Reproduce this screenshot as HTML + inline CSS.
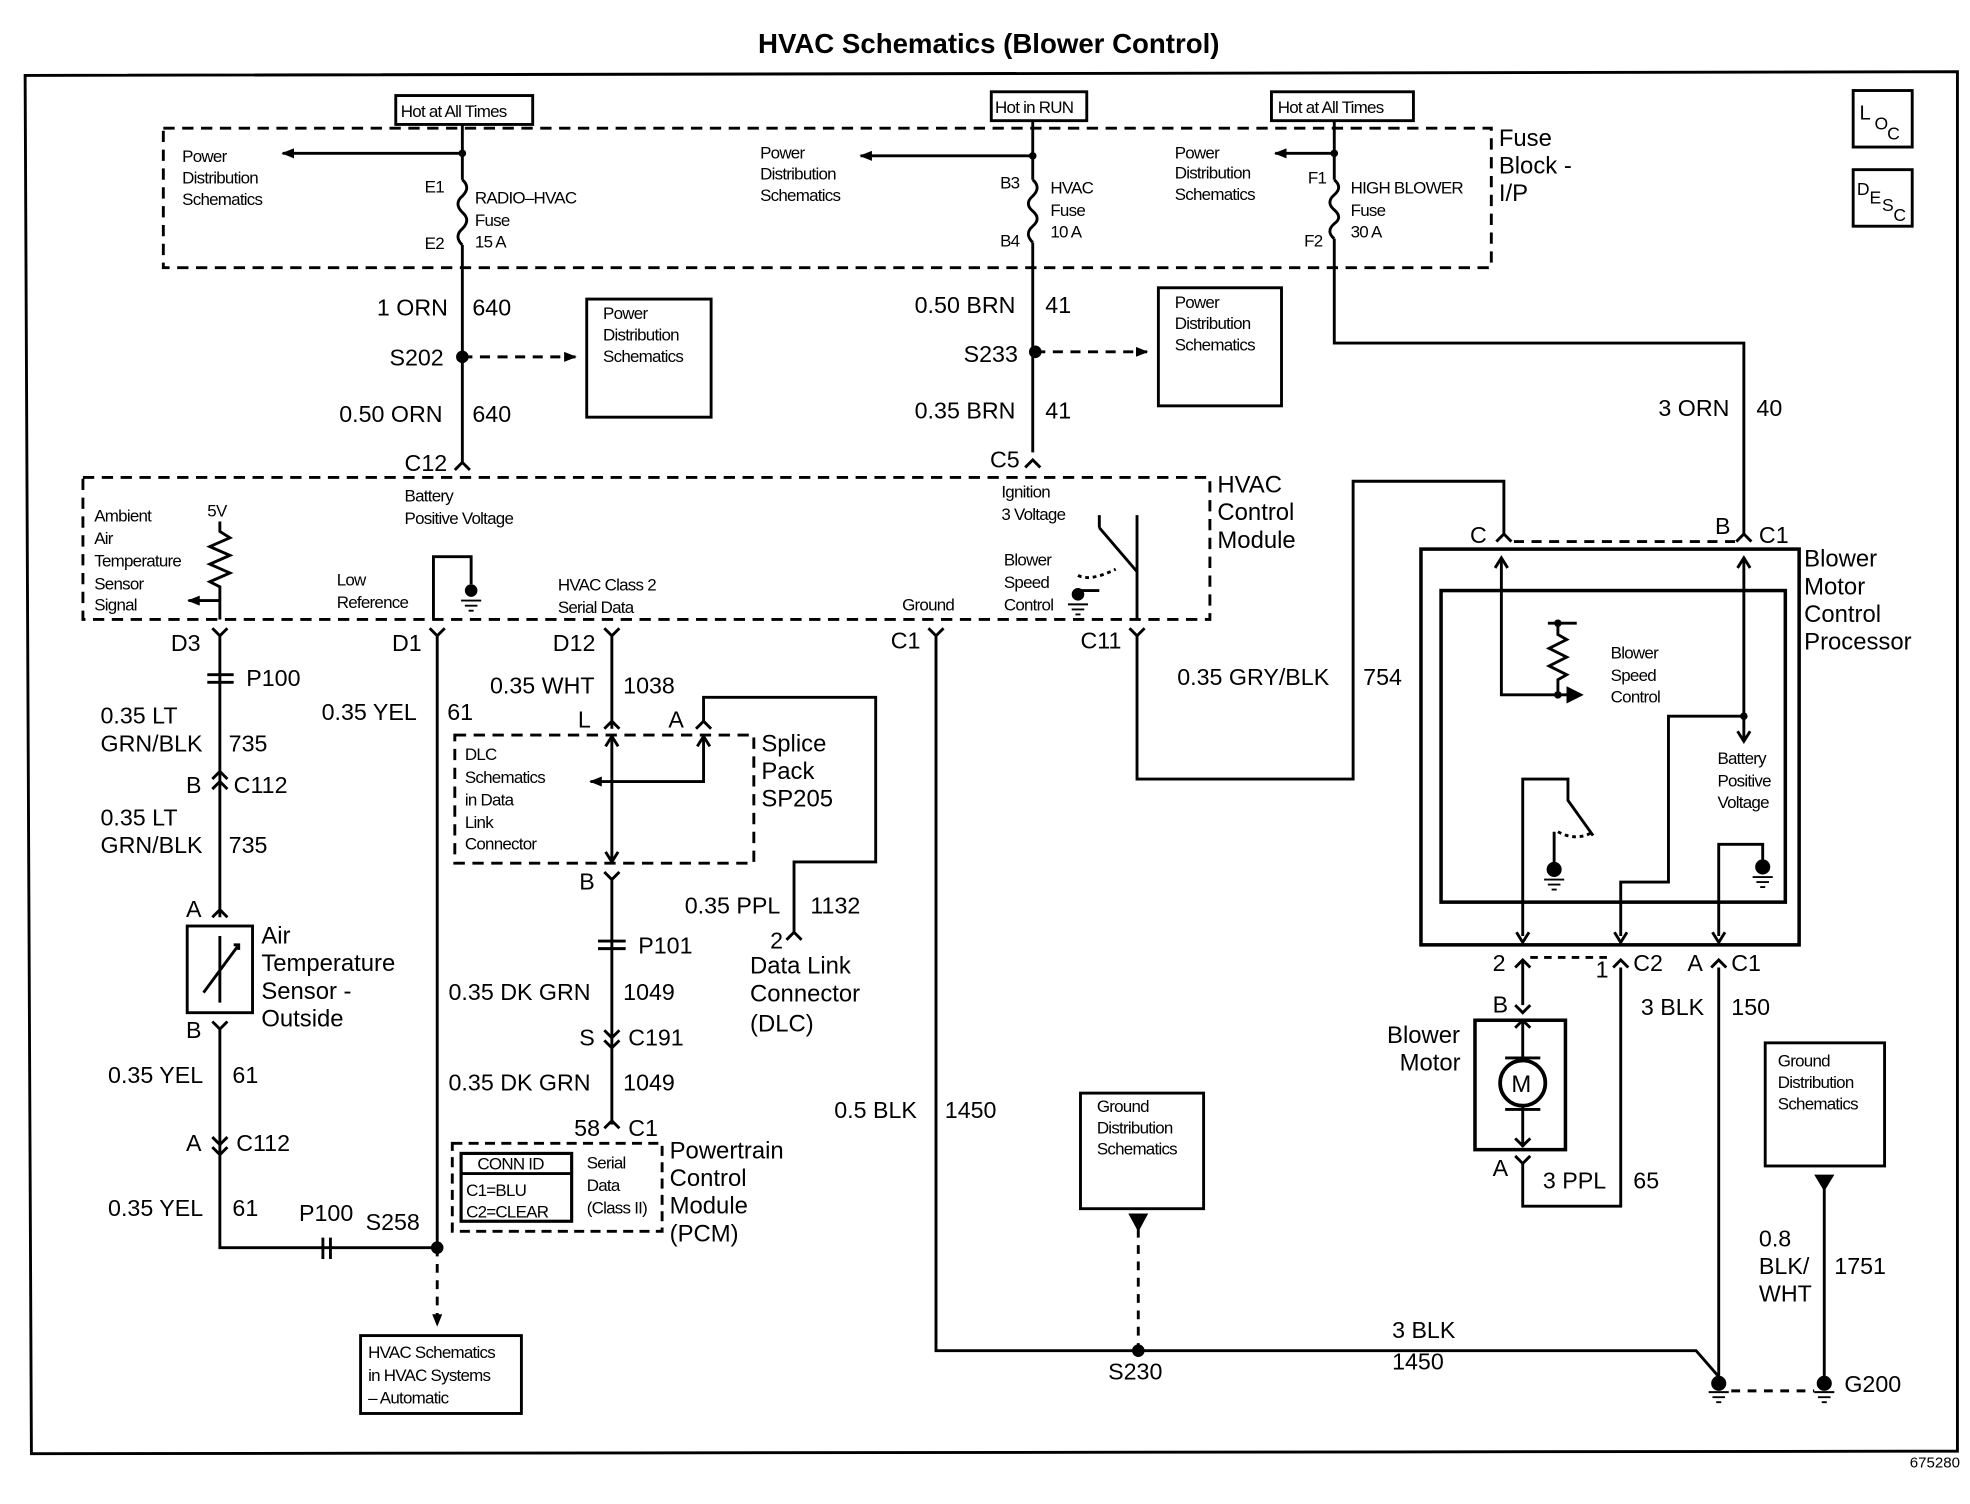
<!DOCTYPE html>
<html><head><meta charset="utf-8"><style>
html,body{margin:0;padding:0;background:#fff;}
svg{display:block;}
text{font-family:"Liberation Sans",Arial,sans-serif;fill:#000;}
.s{font-size:13.5px;letter-spacing:-0.6px;}
.m{font-size:18.5px;}
.l{font-size:19px;}
</style></head><body>
<svg width="1970" height="1504" viewBox="0 0 1568 1197" xmlns="http://www.w3.org/2000/svg">
<defs>
<marker id="ar" markerWidth="10" markerHeight="8" refX="9" refY="4" orient="auto" markerUnits="userSpaceOnUse"><path d="M0,0 L10,4 L0,8 z" fill="#000"/></marker>
</defs>
<g stroke="#000" stroke-width="2.3" fill="none">
<path d="M20,60 L1558,57 L1558,1155 L25,1157 Z"/>
<rect x="1475" y="72" width="47" height="45"/>
<rect x="1475" y="135" width="47" height="45"/>
<rect x="130" y="102" width="1057" height="111" stroke-dasharray="9,6"/>
<rect x="315" y="76" width="109" height="23"/>
<rect x="789" y="73" width="76" height="23"/>
<rect x="1012" y="73" width="113" height="23"/>
<path d="M368,99 V143 M368,195 V368"/>
<path d="M368,143 q7,6 0,13 q-7,6 0,13 q7,6 0,13 q-7,6 0,13"/>
<path d="M368,122 H225" marker-end="url(#ar)"/>
<path d="M822,96 V143 M822,193 V360"/>
<path d="M822,143 q7,6 0,13 q-7,6 0,12 q7,6 0,12 q-7,6 0,13"/>
<path d="M822,124 H685" marker-end="url(#ar)"/>
<path d="M1062,96 V143 M1062,190 V273 H1388 V425"/>
<path d="M1062,143 q7,6 0,12 q-7,6 0,12 q7,6 0,11 q-7,6 0,12"/>
<path d="M1062,122 H1015" marker-end="url(#ar)"/>
<path d="M368,284 H458" stroke-dasharray="8,6" marker-end="url(#ar)"/>
<rect x="467" y="238" width="99" height="94"/>
<path d="M824,280 H913" stroke-dasharray="8,6" marker-end="url(#ar)"/>
<rect x="922" y="229" width="98" height="94"/>
<rect x="66" y="380" width="897" height="113" stroke-dasharray="9,6"/>
<path d="M362,374 L368,368 L374,374 M816,372 L822,366 L828,372"/>
<path d="M175,415 V423 l8,5 l-16,7 l16,7 l-16,7 l16,7 l-16,7 l8,4 V493"/>
<path d="M175,478 H150" marker-end="url(#ar)"/>
<path d="M345,493 V443 H375 V465"/>
<path d="M905,493 V410 M905,455 L875,420 M875,410 V420 M858,470 H875"/>
<path d="M858,458 q10,5 30,-5" stroke-dasharray="3,3"/>
<path d="M169,500 L175,506 L181,500 M175,506 V730"/>
<path d="M165,537 H186 M165,543 H186"/>
<path d="M169,620 L175,614 L181,620 M169,628 L175,622 L181,628"/>
<path d="M169,730 L175,724 L181,730"/>
<rect x="149" y="737" width="52" height="69"/>
<path d="M175,745 V798 M162,790 L190,752 M186,752 H190 V756"/>
<path d="M169,813 L175,819 L181,813 M175,819 V993 H348"/>
<path d="M169,905 L175,911 L181,905 M169,913 L175,919 L181,913"/>
<path d="M257,985 V1002 M263,985 V1002"/>
<path d="M342,500 L348,506 L354,500 M348,506 V993"/>
<path d="M348,993 V1055" stroke-dasharray="7,6" marker-end="url(#ar)"/>
<rect x="287" y="1063" width="128" height="62"/>
<path d="M481,500 L487,506 L493,500 M487,506 V580"/>
<path d="M481,580 L487,574 L493,580 M554,580 L560,574 L566,580"/>
<rect x="362" y="585" width="238" height="102" stroke-dasharray="9,6"/>
<path d="M487,586 V686 M482,594 L487,586 L492,594 M482,678 L487,686 L492,678"/>
<path d="M560,586 V622 H470" marker-end="url(#ar)"/>
<path d="M555,594 L560,586 L565,594"/>
<path d="M560,574 V555 H697 V686 H632 V742 M626,748 L632,742 L638,748"/>
<path d="M481,694 L487,700 L493,694 M487,700 V895"/>
<path d="M476,749 H498 M476,755 H498"/>
<path d="M481,820 L487,826 L493,820 M481,828 L487,834 L493,828"/>
<path d="M481,898 L487,892 L493,898"/>
<rect x="360" y="910" width="167" height="70" stroke-dasharray="8,5"/>
<rect x="367" y="918" width="88" height="54" stroke-width="2.5"/>
<path d="M367,934 H455"/>
<path d="M739,500 L745,506 L751,500 M745,506 V1075 H1350 L1370,1098"/>
<rect x="860" y="870" width="98" height="92"/>
<path d="M900,967 H912 L906,978 Z" fill="#000"/>
<path d="M906,978 V1075" stroke-dasharray="7,6"/>
<path d="M899,500 L905,506 L911,500 M905,506 V620 H1077 V383 H1197 V425"/>
<path d="M1191,431 L1197,425 L1203,431 M1382,431 L1388,425 L1394,431"/>
<path d="M1205,431 H1382" stroke-dasharray="8,6"/>
<rect x="1131" y="437" width="301" height="315" stroke-width="2.8"/>
<rect x="1147" y="470" width="274" height="248" stroke-width="2.8"/>
<path d="M1195,445 V553 H1248" />
<path d="M1190,452 L1195,444 L1200,452"/>
<path d="M1248,548 L1258,553 L1248,558 Z" fill="#000"/>
<path d="M1232,496 H1255 M1240,496 V505 l7,4 l-14,7 l14,7 l-14,7 l14,7 l-7,4 V553"/>
<path d="M1388,445 V590 M1383,452 L1388,444 L1393,452 M1383,582 L1388,590 L1393,582"/>
<path d="M1388,570 H1328 V702 H1290 V745"/>
<path d="M1212,745 V620 H1248 V637 L1268,665 M1237,662 V690"/>
<path d="M1240,662 q15,8 28,0" stroke-dasharray="3,3"/>
<path d="M1368,745 V672 H1403 V685"/>
<path d="M1207,742 L1212,750 L1217,742 M1285,742 L1290,750 L1295,742 M1363,742 L1368,750 L1373,742"/>
<path d="M1206,770 L1212,764 L1218,770 M1284,770 L1290,764 L1296,770 M1362,770 L1368,764 L1374,770"/>
<path d="M1218,762 H1284" stroke-dasharray="6,5"/>
<path d="M1212,764 V800 M1206,800 L1212,806 L1218,800"/>
<rect x="1174" y="812" width="72" height="103" stroke-width="2.8"/>
<path d="M1212,812 V845 M1212,880 V913 M1206,818 L1212,812 L1218,818 M1206,906 L1212,912 L1218,906"/>
<path d="M1198,842 H1226 M1198,883 H1226"/>
<circle cx="1212" cy="862" r="18" stroke-width="3"/>
<path d="M1206,920 L1212,926 L1218,920 M1212,926 V960 H1290 V770"/>
<path d="M1368,770 V1098"/>
<rect x="1405" y="830" width="95" height="98"/>
<path d="M1446,936 H1458 L1452,946 Z" fill="#000"/>
<path d="M1452,946 V1098"/>
<path d="M1378,1107 H1444" stroke-dasharray="7,6"/>
</g>
<g fill="#000">
<circle cx="368" cy="284" r="5"/><circle cx="824" cy="280" r="5"/>
<circle cx="348" cy="993" r="5"/><circle cx="906" cy="1075" r="5"/>
<circle cx="368" cy="122" r="3"/><circle cx="822" cy="124" r="3"/><circle cx="1062" cy="122" r="3"/>
<circle cx="375" cy="470" r="5"/><circle cx="858" cy="473" r="5"/><circle cx="1237" cy="692" r="6"/><circle cx="1403" cy="690" r="6"/>
<circle cx="1368" cy="1101" r="6"/><circle cx="1452" cy="1101" r="6"/>
<circle cx="1240" cy="496" r="3"/><circle cx="1240" cy="553" r="3"/><circle cx="1388" cy="570" r="3"/>
</g>
<g stroke="#000" stroke-width="1.5">
<path d="M367,478 H383 M370,482 H380 M373,486 H377"/>
<path d="M850,481 H866 M853,485 H863 M856,489 H860"/>
<path d="M1229,700 H1245 M1232,704 H1242 M1235,708 H1239"/>
<path d="M1395,698 H1411 M1398,702 H1408 M1401,706 H1405"/>
<path d="M1360,1108 H1376 M1363,1112 H1373 M1366,1116 H1370"/>
<path d="M1444,1108 H1460 M1447,1112 H1457 M1450,1116 H1454"/>
</g>
<text x="787" y="42" text-anchor="middle" font-size="22" font-weight="bold">HVAC Schematics (Blower Control)</text>
<text x="1480" y="95" font-size="16">L</text><text x="1492" y="103" font-size="14">O</text><text x="1502" y="111" font-size="14">C</text>
<text x="1478" y="155" font-size="14">D</text><text x="1488" y="162" font-size="14">E</text><text x="1498" y="168" font-size="14">S</text><text x="1507" y="176" font-size="14">C</text>
<text class="s" x="319" y="93">Hot at All Times</text>
<text class="s" x="792" y="90">Hot in RUN</text>
<text class="s" x="1017" y="90">Hot at All Times</text>
<text class="l" x="1193" y="116">Fuse</text><text class="l" x="1193" y="138">Block -</text><text class="l" x="1193" y="160">I/P</text>
<text class="s" x="145" y="129">Power</text><text class="s" x="145" y="146">Distribution</text><text class="s" x="145" y="163">Schematics</text>
<text class="s" x="605" y="126">Power</text><text class="s" x="605" y="143">Distribution</text><text class="s" x="605" y="160">Schematics</text>
<text class="s" x="935" y="126">Power</text><text class="s" x="935" y="142">Distribution</text><text class="s" x="935" y="159">Schematics</text>
<text class="s" x="338" y="153">E1</text><text class="s" x="338" y="198">E2</text>
<text class="s" x="378" y="162">RADIO–HVAC</text><text class="s" x="378" y="180">Fuse</text><text class="s" x="378" y="197">15 A</text>
<text class="s" x="796" y="150">B3</text><text class="s" x="796" y="196">B4</text>
<text class="s" x="836" y="154">HVAC</text><text class="s" x="836" y="172">Fuse</text><text class="s" x="836" y="189">10 A</text>
<text class="s" x="1041" y="146">F1</text><text class="s" x="1038" y="196">F2</text>
<text class="s" x="1075" y="154">HIGH BLOWER</text><text class="s" x="1075" y="172">Fuse</text><text class="s" x="1075" y="189">30 A</text>
<text class="m" x="300" y="251">1 ORN</text><text class="m" x="376" y="251">640</text>
<text class="m" x="310" y="291">S202</text>
<text class="m" x="270" y="336">0.50 ORN</text><text class="m" x="376" y="336">640</text>
<text class="m" x="322" y="375">C12</text>
<text class="s" x="480" y="254">Power</text><text class="s" x="480" y="271">Distribution</text><text class="s" x="480" y="288">Schematics</text>
<text class="m" x="728" y="249">0.50 BRN</text><text class="m" x="832" y="249">41</text>
<text class="m" x="767" y="288">S233</text>
<text class="m" x="728" y="333">0.35 BRN</text><text class="m" x="832" y="333">41</text>
<text class="m" x="788" y="372">C5</text>
<text class="s" x="935" y="245">Power</text><text class="s" x="935" y="262">Distribution</text><text class="s" x="935" y="279">Schematics</text>
<text class="m" x="1320" y="331">3 ORN</text><text class="m" x="1398" y="331">40</text>
<text class="l" x="969" y="392">HVAC</text><text class="l" x="969" y="414">Control</text><text class="l" x="969" y="436">Module</text>
<text class="s" x="75" y="415">Ambient</text><text class="s" x="75" y="433">Air</text><text class="s" x="75" y="451">Temperature</text><text class="s" x="75" y="469">Sensor</text><text class="s" x="75" y="486">Signal</text>
<text class="s" x="165" y="411">5V</text>
<text class="s" x="322" y="399">Battery</text><text class="s" x="322" y="417">Positive Voltage</text>
<text class="s" x="268" y="466">Low</text><text class="s" x="268" y="484">Reference</text>
<text class="s" x="444" y="470">HVAC Class 2</text><text class="s" x="444" y="488">Serial Data</text>
<text class="s" x="718" y="486">Ground</text>
<text class="s" x="797" y="396">Ignition</text><text class="s" x="797" y="414">3 Voltage</text>
<text class="s" x="799" y="450">Blower</text><text class="s" x="799" y="468">Speed</text><text class="s" x="799" y="486">Control</text>
<text class="m" x="136" y="518">D3</text><text class="m" x="312" y="518">D1</text><text class="m" x="440" y="518">D12</text><text class="m" x="709" y="516">C1</text><text class="m" x="860" y="516">C11</text>
<text class="m" x="196" y="546">P100</text>
<text class="m" x="80" y="576">0.35 LT</text><text class="m" x="80" y="598">GRN/BLK</text><text class="m" x="182" y="598">735</text>
<text class="m" x="256" y="573">0.35 YEL</text><text class="m" x="356" y="573">61</text>
<text class="m" x="148" y="631">B</text><text class="m" x="186" y="631">C112</text>
<text class="m" x="80" y="657">0.35 LT</text><text class="m" x="80" y="679">GRN/BLK</text><text class="m" x="182" y="679">735</text>
<text class="m" x="148" y="730">A</text>
<text class="l" x="208" y="751">Air</text><text class="l" x="208" y="773">Temperature</text><text class="l" x="208" y="795">Sensor -</text><text class="l" x="208" y="817">Outside</text>
<text class="m" x="148" y="826">B</text>
<text class="m" x="86" y="862">0.35 YEL</text><text class="m" x="185" y="862">61</text>
<text class="m" x="148" y="916">A</text><text class="m" x="188" y="916">C112</text>
<text class="m" x="86" y="968">0.35 YEL</text><text class="m" x="185" y="968">61</text>
<text class="m" x="238" y="972">P100</text><text class="m" x="291" y="979">S258</text>
<text class="s" x="293" y="1081">HVAC Schematics</text><text class="s" x="293" y="1099">in HVAC Systems</text><text class="s" x="293" y="1117">– Automatic</text>
<text class="m" x="390" y="552">0.35 WHT</text><text class="m" x="496" y="552">1038</text>
<text class="m" x="460" y="579">L</text><text class="m" x="532" y="579">A</text>
<text class="l" x="606" y="598">Splice</text><text class="l" x="606" y="620">Pack</text><text class="l" x="606" y="642">SP205</text>
<text class="s" x="370" y="605">DLC</text><text class="s" x="370" y="623">Schematics</text><text class="s" x="370" y="641">in Data</text><text class="s" x="370" y="659">Link</text><text class="s" x="370" y="676">Connector</text>
<text class="m" x="461" y="708">B</text>
<text class="m" x="545" y="727">0.35 PPL</text><text class="m" x="645" y="727">1132</text>
<text class="m" x="508" y="759">P101</text>
<text class="m" x="613" y="755">2</text>
<text class="l" x="597" y="775">Data Link</text><text class="l" x="597" y="797">Connector</text><text class="l" x="597" y="821">(DLC)</text>
<text class="m" x="357" y="796">0.35 DK GRN</text><text class="m" x="496" y="796">1049</text>
<text class="m" x="461" y="832">S</text><text class="m" x="500" y="832">C191</text>
<text class="m" x="357" y="868">0.35 DK GRN</text><text class="m" x="496" y="868">1049</text>
<text class="m" x="457" y="904">58</text><text class="m" x="500" y="904">C1</text>
<text class="s" x="380" y="931">CONN ID</text><text class="s" x="371" y="952">C1=BLU</text><text class="s" x="371" y="969">C2=CLEAR</text>
<text class="s" x="467" y="930">Serial</text><text class="s" x="467" y="948">Data</text><text class="s" x="467" y="966">(Class II)</text>
<text class="l" x="533" y="922">Powertrain</text><text class="l" x="533" y="944">Control</text><text class="l" x="533" y="966">Module</text><text class="l" x="533" y="988">(PCM)</text>
<text class="m" x="937" y="545">0.35 GRY/BLK</text><text class="m" x="1085" y="545">754</text>
<text class="m" x="664" y="890">0.5 BLK</text><text class="m" x="752" y="890">1450</text>
<text class="s" x="873" y="885">Ground</text><text class="s" x="873" y="902">Distribution</text><text class="s" x="873" y="919">Schematics</text>
<text class="m" x="1108" y="1065">3 BLK</text><text class="m" x="1108" y="1090">1450</text>
<text class="m" x="882" y="1098">S230</text>
<text class="m" x="1170" y="432">C</text><text class="m" x="1365" y="425">B</text><text class="m" x="1400" y="432">C1</text>
<text class="l" x="1436" y="451">Blower</text><text class="l" x="1436" y="473">Motor</text><text class="l" x="1436" y="495">Control</text><text class="l" x="1436" y="517">Processor</text>
<text class="s" x="1282" y="524">Blower</text><text class="s" x="1282" y="542">Speed</text><text class="s" x="1282" y="559">Control</text>
<text class="s" x="1367" y="608">Battery</text><text class="s" x="1367" y="626">Positive</text><text class="s" x="1367" y="643">Voltage</text>
<text class="m" x="1188" y="773">2</text><text class="m" x="1270" y="778">1</text><text class="m" x="1300" y="773">C2</text><text class="m" x="1343" y="773">A</text><text class="m" x="1378" y="773">C1</text>
<text class="m" x="1188" y="806">B</text>
<text class="l" x="1104" y="830">Blower</text><text class="l" x="1114" y="852">Motor</text>
<text class="l" x="1203" y="869" font-size="18">M</text>
<text class="m" x="1188" y="936">A</text>
<text class="m" x="1228" y="946">3 PPL</text><text class="m" x="1300" y="946">65</text>
<text class="m" x="1306" y="808">3 BLK</text><text class="m" x="1378" y="808">150</text>
<text class="s" x="1415" y="849">Ground</text><text class="s" x="1415" y="866">Distribution</text><text class="s" x="1415" y="883">Schematics</text>
<text class="m" x="1400" y="992">0.8</text><text class="m" x="1400" y="1014">BLK/</text><text class="m" x="1400" y="1036">WHT</text><text class="m" x="1460" y="1014">1751</text>
<text class="m" x="1468" y="1108">G200</text>
<text x="1520" y="1168" font-size="12">675280</text>
</svg>
</body></html>
